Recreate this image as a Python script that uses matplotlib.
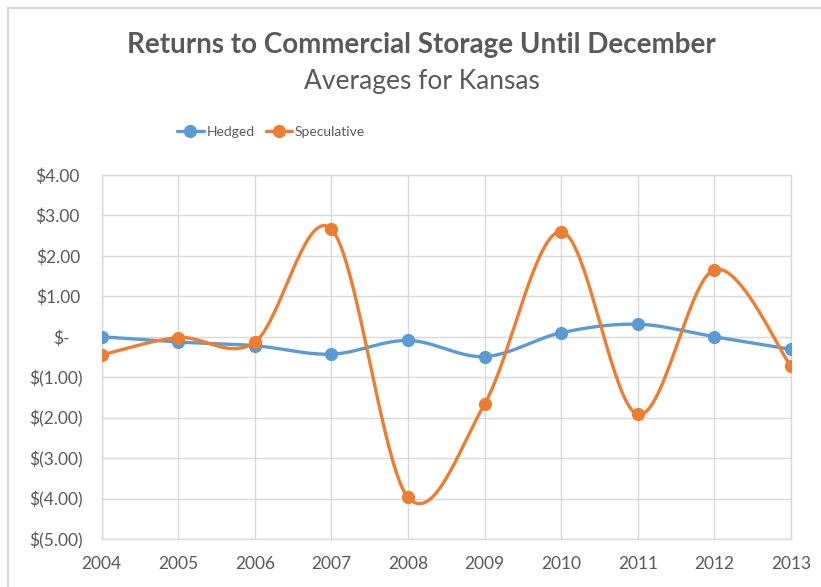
import numpy as np
from matplotlib import pyplot as plt
from matplotlib.patches import Rectangle
from matplotlib.transforms import ScaledTranslation

years = [2004, 2005, 2006, 2007, 2008, 2009, 2010, 2011, 2012, 2013]
hedged = [0.00, -0.13, -0.22, -0.43, -0.09, -0.49, 0.10, 0.31, 0.00, -0.31]
speculative = [-0.45, -0.02, -0.13, 2.66, -3.97, -1.66, 2.60, -1.92, 1.66, -0.73]
yticks = [4, 3, 2, 1, 0, -1, -2, -3, -4, -5]
ylabels = ["$4.00", "$3.00", "$2.00", "$1.00", "$-",
           "$(1.00)", "$(2.00)", "$(3.00)", "$(4.00)", "$(5.00)"]

plt.rcParams['font.family'] = ['Lato', 'DejaVu Sans']
TXT = '#595959'
GRID = '#D9D9D9'


def smooth(xs, ys, n=40):
    # bezier through the points, like excel's smoothed line
    p = np.column_stack([xs, ys]).astype(float)
    p = np.vstack([p[0], p, p[-1]])
    out = []
    for i in range(1, len(p) - 2):
        p0, p1, p2, p3 = p[i - 1], p[i], p[i + 1], p[i + 2]
        c1 = p1 + (p2 - p0) / 6
        c2 = p2 - (p3 - p1) / 6
        t = np.linspace(0, 1, n, endpoint=False)[:, None]
        seg = ((1 - t) ** 3) * p1 + 3 * ((1 - t) ** 2) * t * c1 + 3 * (1 - t) * t ** 2 * c2 + t ** 3 * p2
        out.append(seg)
    out.append(p[-2][None, :])
    out = np.vstack(out)
    return out[:, 0], out[:, 1], list(range(0, len(out), n))


fig = plt.figure(figsize=(8.21, 5.87), dpi=100)
ax = fig.add_axes([101.7 / 821, 1 - 539 / 587, (791 - 101.7) / 821, (539 - 175) / 587])

for vals, col, name in [(hedged, '#5B9BD5', 'Hedged'), (speculative, '#ED7D31', 'Speculative')]:
    sx, sy, idx = smooth(years, vals)
    ax.plot(sx, sy, color=col, lw=2.4, marker='o', markersize=8.5, markevery=idx,
            label=name, solid_capstyle='round', zorder=3)

ax.set_xlim(2004, 2013)
ax.set_ylim(-5, 4)
ax.set_xticks(years)
ax.set_xticklabels([str(y) for y in years])
ax.set_yticks(yticks)
ax.set_yticklabels(ylabels)
ax.grid(True, color=GRID, lw=1)
ax.set_axisbelow(True)
for s in ax.spines.values():
    s.set_color(GRID)
    s.set_linewidth(1)
ax.tick_params(length=0, colors=TXT, labelsize=12.5)
ax.tick_params(axis='y', pad=13.5)
ax.tick_params(axis='x', pad=12)

# accounting format alignment of the y labels
for lab, v in zip(ax.get_yticklabels(), yticks):
    dx = 0
    if v > 0:
        dx = -3
    elif v == 0:
        dx = -13
    lab.set_transform(lab.get_transform() + ScaledTranslation(dx / 100, 0, fig.dpi_scale_trans))

fig.text(0.513, 1 - 45 / 587, "Returns to Commercial Storage Until December",
         ha='center', va='center', fontsize=20, fontweight='bold', color=TXT)
fig.text(0.514, 1 - 82 / 587, "Averages for Kansas",
         ha='center', va='center', fontsize=19, color=TXT)

leg = fig.legend(loc='center', bbox_to_anchor=(271 / 821, 1 - 132 / 587), ncol=2,
                 frameon=False, fontsize=10, handlelength=1.9, handletextpad=0.2,
                 columnspacing=0.8)
for t in leg.get_texts():
    t.set_color(TXT)

fig.add_artist(Rectangle((8 / 821, -0.05), 1.2, 1 - 8 / 587 + 0.05,
                         transform=fig.transFigure, fill=False, edgecolor=GRID, lw=1.5))

fig.savefig('out.png', dpi=100)
